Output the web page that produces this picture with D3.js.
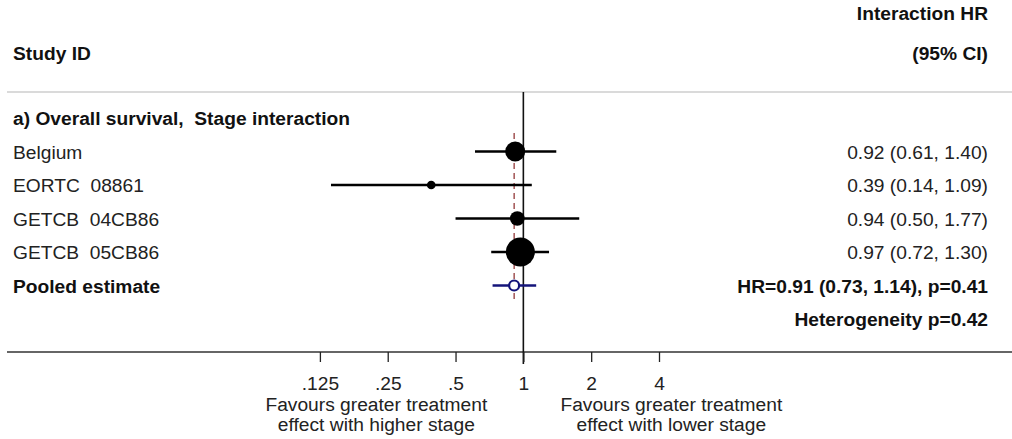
<!DOCTYPE html>
<html>
<head>
<meta charset="utf-8">
<script src="https://cdn.jsdelivr.net/npm/d3@7"></script>
<style>
  html, body { margin: 0; padding: 0; background: #fff; }
  svg text { font-family: "Liberation Sans", Arial, sans-serif; white-space: pre; }
</style>
</head>
<body>
<svg id="chart" width="1012" height="439"></svg>
<script>
// Study-level interaction hazard ratios (stage interaction, overall survival)
const studies = ["Belgium", "EORTC  08861", "GETCB  04CB86", "GETCB  05CB86"];
const hr      = [0.92, 0.39, 0.94, 0.97];
const lower   = [0.61, 0.14, 0.50, 0.72];
const upper   = [1.40, 1.09, 1.77, 1.30];
const weights = [26.2, 4.9, 14.0, 54.9];   // % weight, drives marker area

// Pooled estimate
const pooledHR = 0.91, pooledLo = 0.73, pooledHi = 1.14, pooledP = "0.41";
const heterogeneityP = "0.42";

const tickValues = [0.125, 0.25, 0.5, 1, 2, 4];
const tickLabels = [".125", ".25", ".5", "1", "2", "4"];

const sectionTitle = "a) Overall survival,  Stage interaction";
const fmt = d3.format(".2f");

const svg = d3.select("#chart");
const W = 1012;
const fontSize = 19.2;

// log2 scale: one doubling = ~67.8px, HR = 1 at x = 523.3
const x = d3.scaleLog().base(2).domain([0.125, 4]).range([319.9, 659.0]);

// row layout
const rowY = d3.scalePoint()
  .domain(["title", ...studies, "pooled", "het"])
  .range([118, 319]);

const rSize = d3.scaleSqrt().domain([0, d3.max(weights)]).range([0, 14.5]);

const textRight = 988, textLeft = 13;

// header
svg.append("text").attr("x", textRight).attr("y", 20).attr("text-anchor", "end")
  .attr("font-weight", "bold").attr("font-size", fontSize).attr("fill", "#111")
  .text("Interaction HR");
svg.append("text").attr("x", textRight).attr("y", 60).attr("text-anchor", "end")
  .attr("font-weight", "bold").attr("font-size", fontSize).attr("fill", "#111")
  .text("(95% CI)");
svg.append("text").attr("x", textLeft).attr("y", 60)
  .attr("font-weight", "bold").attr("font-size", fontSize).attr("fill", "#111")
  .text("Study ID");

// separator under header
svg.append("line").attr("x1", 7).attr("x2", W).attr("y1", 92).attr("y2", 92)
  .attr("stroke", "#dadada").attr("stroke-width", 2);

// axis baseline
const axisY = 352;
svg.append("line").attr("x1", 7).attr("x2", W).attr("y1", axisY).attr("y2", axisY)
  .attr("stroke", "#333").attr("stroke-width", 1.5);

// null line at HR = 1
svg.append("line").attr("x1", x(1)).attr("x2", x(1)).attr("y1", 92).attr("y2", 364)
  .attr("stroke", "#111").attr("stroke-width", 1.6);

// pooled estimate reference line
svg.append("line").attr("x1", x(pooledHR)).attr("x2", x(pooledHR))
  .attr("y1", 133).attr("y2", 303)
  .attr("stroke", "#8b2a2a").attr("stroke-width", 1.2).attr("stroke-dasharray", "6,4");

// x axis
const axis = d3.axisBottom(x).tickValues(tickValues)
  .tickFormat((d, i) => tickLabels[i]).tickSize(10).tickPadding(14);
const gAxis = svg.append("g").attr("transform", `translate(0,${axisY})`).call(axis);
gAxis.select(".domain").remove();
gAxis.selectAll(".tick line").attr("stroke", "#222").attr("stroke-width", 1.3);
gAxis.selectAll(".tick text").attr("font-size", fontSize).attr("fill", "#222")
  .attr("font-family", "Liberation Sans, Arial, sans-serif");

// axis captions
const capL = x(1) - 147, capR = x(1) + 148;
[["Favours greater treatment", "effect with higher stage", capL],
 ["Favours greater treatment", "effect with lower stage", capR]].forEach(([a, b, cx]) => {
  svg.append("text").attr("x", cx).attr("y", 411).attr("text-anchor", "middle")
    .attr("font-size", fontSize).attr("fill", "#222").text(a);
  svg.append("text").attr("x", cx).attr("y", 431).attr("text-anchor", "middle")
    .attr("font-size", fontSize).attr("fill", "#222").text(b);
});

// section title
svg.append("text").attr("x", textLeft).attr("y", rowY("title") + 7)
  .attr("font-weight", "bold").attr("font-size", fontSize).attr("fill", "#111")
  .text(sectionTitle);

// study rows
const rows = studies.map((s, i) => ({ s, hr: hr[i], lo: lower[i], hi: upper[i], w: weights[i] }));
const g = svg.append("g");
g.selectAll("line.ci").data(rows).join("line").attr("class", "ci")
  .attr("x1", d => x(d.lo)).attr("x2", d => x(d.hi))
  .attr("y1", d => rowY(d.s)).attr("y2", d => rowY(d.s))
  .attr("stroke", "#000").attr("stroke-width", 2.6);
g.selectAll("circle.pt").data(rows).join("circle").attr("class", "pt")
  .attr("cx", d => x(d.hr)).attr("cy", d => rowY(d.s)).attr("r", d => rSize(d.w))
  .attr("fill", "#000");
g.selectAll("text.name").data(rows).join("text").attr("class", "name")
  .attr("x", textLeft).attr("y", d => rowY(d.s) + 7)
  .attr("font-size", fontSize).attr("fill", "#222").text(d => d.s);
g.selectAll("text.val").data(rows).join("text").attr("class", "val")
  .attr("x", textRight).attr("y", d => rowY(d.s) + 7).attr("text-anchor", "end")
  .attr("font-size", fontSize).attr("fill", "#222")
  .text(d => `${fmt(d.hr)} (${fmt(d.lo)}, ${fmt(d.hi)})`);

// pooled row
const py = rowY("pooled");
svg.append("line").attr("x1", x(pooledLo)).attr("x2", x(pooledHi)).attr("y1", py).attr("y2", py)
  .attr("stroke", "#14147a").attr("stroke-width", 2.6);
svg.append("circle").attr("cx", x(pooledHR)).attr("cy", py).attr("r", 5)
  .attr("fill", "#fff").attr("stroke", "#14147a").attr("stroke-width", 2.2);
svg.append("text").attr("x", textLeft).attr("y", py + 7)
  .attr("font-weight", "bold").attr("font-size", fontSize).attr("fill", "#111")
  .text("Pooled estimate");
svg.append("text").attr("x", textRight).attr("y", py + 7).attr("text-anchor", "end")
  .attr("font-weight", "bold").attr("font-size", fontSize).attr("fill", "#111")
  .text(`HR=${fmt(pooledHR)} (${fmt(pooledLo)}, ${fmt(pooledHi)}), p=${pooledP}`);
svg.append("text").attr("x", textRight).attr("y", rowY("het") + 7).attr("text-anchor", "end")
  .attr("font-weight", "bold").attr("font-size", fontSize).attr("fill", "#111")
  .text(`Heterogeneity p=${heterogeneityP}`);
</script>
</body>
</html>
